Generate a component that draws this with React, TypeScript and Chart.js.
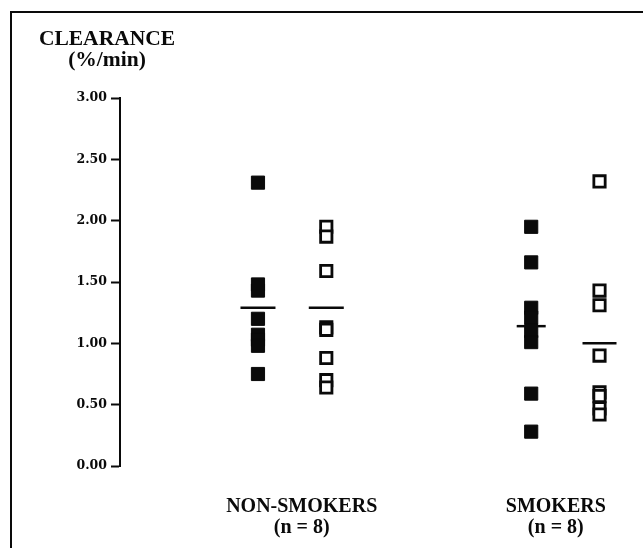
import React, { useEffect, useRef } from "react";
import { Chart, registerables } from "chart.js";

Chart.register(...registerables);

// ---- data ----
const GROUP_LABELS = [["NON-SMOKERS", "(n = 8)"], ["SMOKERS", "(n = 8)"]];
const GROUP_LABEL_POS = [1.035, 1.965];
const GROUP_POS = [1, 2];
const SUB_OFFSET = 0.125;

const NON_SMOKERS_FILLED = [2.31, 1.48, 1.43, 1.2, 1.07, 1.03, 0.98, 0.75];
const NON_SMOKERS_OPEN = [1.95, 1.87, 1.59, 1.13, 1.11, 0.88, 0.7, 0.64];
const SMOKERS_FILLED = [1.95, 1.66, 1.29, 1.21, 1.1, 1.01, 0.59, 0.28];
const SMOKERS_OPEN = [2.32, 1.43, 1.31, 0.9, 0.6, 0.57, 0.47, 0.42];
const MEANS = [1.29, 1.29, 1.14, 1.0];

const Y_MIN = 0;
const Y_MAX = 3;
const Y_STEP = 0.5;

const INK = "#0a0a0a";
const SERIF = "'Liberation Serif', 'Times New Roman', serif";
const TICK_FONT = "'DejaVu Serif', serif";

export default function App() {
  const ref = useRef<HTMLCanvasElement | null>(null);

  useEffect(() => {
    if (!ref.current) return;
    const pts = (vals: number[], x: number) => vals.map((y) => ({ x, y }));
    const meanX = [
      GROUP_POS[0] - SUB_OFFSET,
      GROUP_POS[0] + SUB_OFFSET,
      GROUP_POS[1] - SUB_OFFSET,
      GROUP_POS[1] + SUB_OFFSET,
    ];
    const chart = new Chart(ref.current, {
      type: "scatter",
      data: {
        datasets: [
          {
            label: "Non-smokers A",
            data: pts(NON_SMOKERS_FILLED, GROUP_POS[0] - SUB_OFFSET),
            pointStyle: "rect",
            pointRadius: 9.3,
            backgroundColor: INK,
            borderColor: INK,
            borderWidth: 1,
          },
          {
            label: "Non-smokers B",
            data: pts(NON_SMOKERS_OPEN, GROUP_POS[0] + SUB_OFFSET),
            pointStyle: "rect",
            pointRadius: 8,
            backgroundColor: "#ffffff",
            borderColor: INK,
            borderWidth: 2.8,
          },
          {
            label: "Smokers A",
            data: pts(SMOKERS_FILLED, GROUP_POS[1] - SUB_OFFSET),
            pointStyle: "rect",
            pointRadius: 9.3,
            backgroundColor: INK,
            borderColor: INK,
            borderWidth: 1,
          },
          {
            label: "Smokers B",
            data: pts(SMOKERS_OPEN, GROUP_POS[1] + SUB_OFFSET),
            pointStyle: "rect",
            pointRadius: 8,
            backgroundColor: "#ffffff",
            borderColor: INK,
            borderWidth: 2.8,
          },
          {
            label: "Mean",
            data: MEANS.map((y, i) => ({ x: meanX[i], y })),
            pointStyle: "line",
            pointRadius: [17.5, 17.5, 14.5, 17],
            borderColor: INK,
            backgroundColor: INK,
            borderWidth: 2.5,
          },
        ],
      },
      options: {
        responsive: false,
        animation: false,
        events: [],
        layout: { padding: { top: 98, right: 23, bottom: 0, left: 0 } },
        plugins: {
          legend: { display: false },
          tooltip: { enabled: false },
          title: { display: false },
        },
        scales: {
          x: {
            type: "linear",
            min: 0.37,
            max: 2.2,
            grid: { display: false, drawTicks: false },
            border: { display: false },
            afterBuildTicks: (scale: any) => {
              scale.ticks = GROUP_LABEL_POS.map((v) => ({ value: v }));
            },
            afterFit: (scale: any) => {
              scale.height = 82;
            },
            ticks: {
              autoSkip: false,
              maxRotation: 0,
              padding: 30,
              color: INK,
              font: { family: SERIF, size: 20, weight: "bold", lineHeight: 1.05 },
              callback: (_v: any, i: number) => GROUP_LABELS[i],
            },
          },
          y: {
            min: Y_MIN,
            max: Y_MAX,
            afterFit: (scale: any) => {
              scale.width = 120;
            },
            grid: {
              drawOnChartArea: false,
              drawTicks: true,
              tickLength: 9,
              tickColor: INK,
              tickWidth: 2,
              color: INK,
            },
            border: { display: true, color: INK, width: 2 },
            ticks: {
              stepSize: Y_STEP,
              padding: 4,
              color: INK,
              font: { family: TICK_FONT, size: 12.5, weight: "bold" },
              callback: (v: any) => Number(v).toFixed(2),
            },
          },
        },
      },
    } as any);
    return () => chart.destroy();
  }, []);

  return (
    <div
      style={{
        position: "absolute",
        left: 0,
        top: 0,
        width: 643,
        height: 548,
        background: "#ffffff",
        overflow: "hidden",
      }}
    >
      <div
        style={{
          position: "absolute",
          left: 10,
          top: 11,
          width: 640,
          height: 560,
          borderTop: `2px solid ${INK}`,
          borderLeft: `2px solid ${INK}`,
        }}
      />
      <canvas
        ref={ref}
        width={643}
        height={548}
        style={{ position: "absolute", left: 0, top: 0 }}
      />
      <div
        style={{
          position: "absolute",
          left: 26,
          top: 28,
          width: 162,
          textAlign: "center",
          fontFamily: SERIF,
          fontWeight: "bold",
          fontSize: 21.5,
          lineHeight: "21px",
          color: INK,
        }}
      >
        <div>CLEARANCE</div>
        <div>(%/min)</div>
      </div>
    </div>
  );
}
